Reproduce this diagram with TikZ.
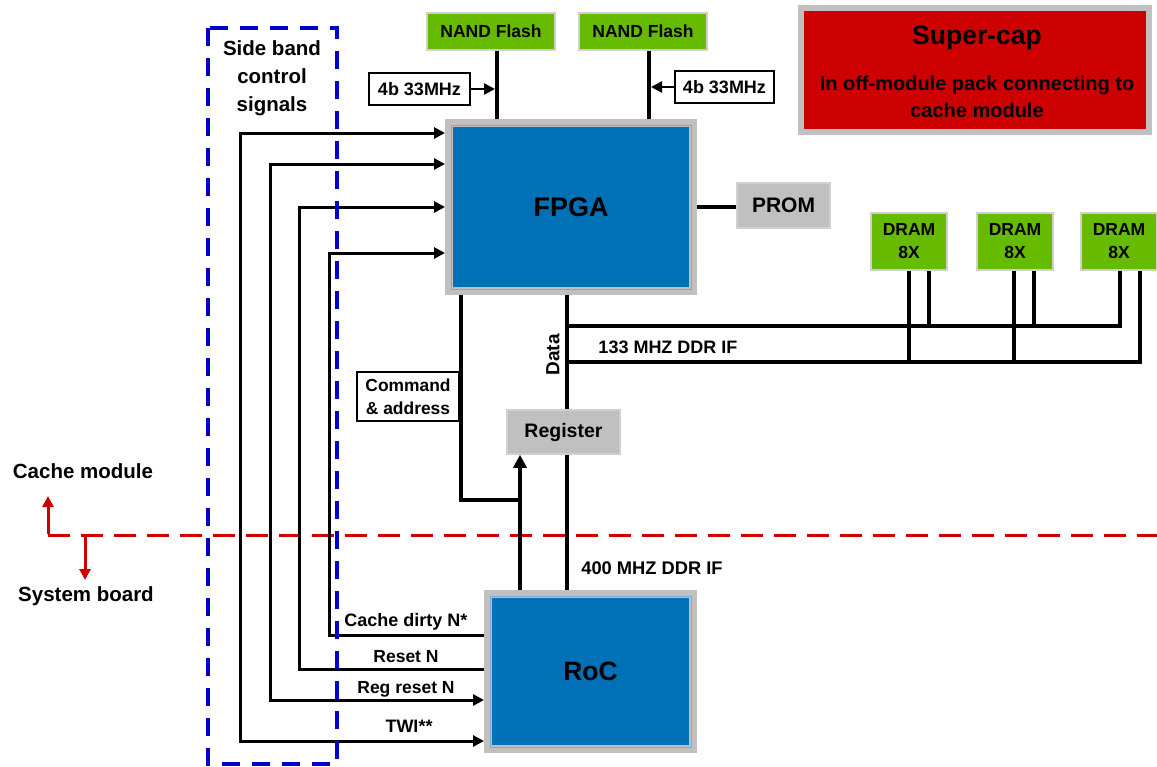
\documentclass[tikz,border=0pt]{standalone}
\usepackage{fontspec}
\setmainfont{Liberation Sans}
\usetikzlibrary{arrows.meta}
\definecolor{hpgreen}{RGB}{102,187,0}
\definecolor{hpgray}{RGB}{192,192,192}
\definecolor{edgegray}{RGB}{208,208,208}
\definecolor{hpblue}{RGB}{0,113,183}
\definecolor{thinblue}{RGB}{125,170,205}
\definecolor{hpred}{RGB}{204,0,0}
\definecolor{sbblue}{RGB}{0,0,204}
\newcommand\fz[2]{\fontsize{#1pt}{#2pt}\selectfont}
\begin{document}
\begin{tikzpicture}[x=1pt,y=-1pt,
  every node/.style={inner sep=0pt},
  chip/.style={fill=hpblue, draw=hpgray, line width=8pt},
  greenbox/.style={fill=hpgreen, draw=edgegray, line width=2pt, align=center},
  graybox/.style={fill=hpgray, draw=edgegray, line width=1.5pt},
  whitebox/.style={fill=white, draw=black, line width=2pt, align=center},
  lbl/.style={align=center},
  bus/.style={line width=3.2pt},
  thickbus/.style={line width=4.5pt},
  sig/.style={line width=3pt},
  tri/.tip={Triangle[length=11pt,width=11pt]},
  bigtri/.tip={Triangle[length=13pt,width=13pt]},
  redtri/.tip={Triangle[length=11pt,width=11pt]}
]
\useasboundingbox (0,0) rectangle (1157,766);

% ---- red partition line ----
\draw[hpred, line width=3pt, dash pattern=on 22pt off 11pt] (48,535) -- (1157,535);
\coordinate (redA) at (48,535);
\coordinate (redB) at (85,535);
\node[font=\bfseries\fz{20.5}{24}] (cm) at (83,471) {Cache module};
\node[font=\bfseries\fz{20.5}{24}] (sb) at (86,596) {System board};
\draw[hpred, line width=3pt, -redtri] ([yshift=1.5pt]redA) -- (48,496);
\draw[hpred, line width=3pt, -redtri] ([yshift=-1.5pt]redB) -- (85,580);

% ---- nodes ----
\node[greenbox, minimum width=128pt, minimum height=37pt, font=\bfseries\fz{17.5}{20}] (nand1) at (491,31.5) {NAND Flash};
\node[greenbox, minimum width=128pt, minimum height=37pt, font=\bfseries\fz{17.5}{20}] (nand2) at (643,31.5) {NAND Flash};
\node[whitebox, minimum width=101pt, minimum height=32pt, font=\bfseries\fz{18}{20}] (lbl1) at (419.5,89) {4b 33MHz};
\node[whitebox, minimum width=99pt, minimum height=32pt, font=\bfseries\fz{18}{20}] (lbl2) at (724.5,87) {4b 33MHz};

\node[chip, minimum width=244pt, minimum height=168pt, font=\bfseries\fz{27}{30}] (fpga) at (571,207) {FPGA};
\draw[thinblue, line width=1pt] ([shift={(6,6)}]fpga.north west) rectangle ([shift={(-6,-6)}]fpga.south east);

\node[chip, minimum width=205pt, minimum height=155pt, font=\bfseries\fz{26.5}{30}] (roc) at (590.5,671.5) {RoC};
\draw[thinblue, line width=1pt] ([shift={(6,6)}]roc.north west) rectangle ([shift={(-6,-6)}]roc.south east);

\node[graybox, minimum width=93pt, minimum height=45pt, font=\bfseries\fz{21}{24}] (prom) at (783.5,205.5) {PROM};
\node[graybox, minimum width=113pt, minimum height=44pt, font=\bfseries\fz{19.5}{22}] (reg) at (563.5,432) {Register};

\node[greenbox, minimum width=76pt, minimum height=57pt, font=\bfseries\fz{17.5}{23}] (dram1) at (909,241.5) {DRAM\\8X};
\node[greenbox, minimum width=76pt, minimum height=57pt, font=\bfseries\fz{17.5}{23}] (dram2) at (1015,241.5) {DRAM\\8X};
\node[greenbox, minimum width=76pt, minimum height=57pt, font=\bfseries\fz{17.5}{23}] (dram3) at (1119,241.5) {DRAM\\8X};

\node[whitebox, line width=1.5pt, minimum width=102pt, minimum height=49pt, font=\bfseries\fz{17.4}{23}] (cmd) at (408,396.5) {Command\\\& address};

\node[fill=hpred, draw=hpgray, line width=6pt, minimum width=348pt, minimum height=124pt] (cap) at (975,70) {};
\node[font=\bfseries\fz{26.5}{30}] (captitle) at (977,38) {Super-cap};
\node[lbl, font=\bfseries\fz{20}{27}] (captext) at (977,96.5) {In off-module pack connecting to\\cache module};

% ---- NAND connections ----
\draw[thickbus] ([xshift=6pt]nand1.south) -- ([xshift=6pt]nand1.south |- fpga.north);
\draw[thickbus] ([xshift=6pt]nand2.south) -- ([xshift=6pt]nand2.south |- fpga.north);
\draw[line width=2.4pt, -tri] (lbl1.east) -- (lbl1.east -| 495,0);
\draw[line width=2.4pt, -tri] (lbl2.west) -- (lbl2.west -| 651,0);

% ---- PROM ----
\draw[thickbus] (fpga.east) -- (fpga.east -| prom.west);

% ---- data path ----
\draw[thickbus] (fpga.south -| 567,0) -- (reg.north -| 567,0);
\draw[thickbus] (reg.south -| 567,0) -- (roc.north -| 567,0);
\node[rotate=90, font=\bfseries\fz{19}{22}] (datalbl) at (553,355) {Data};
\node[font=\bfseries\fz{18}{22}] (ddr133) at (668,347) {133 MHZ DDR IF};
\node[font=\bfseries\fz{18.3}{22}] (ddr400) at (652,568) {400 MHZ DDR IF};

% ---- command & address ----
\draw[thickbus, line join=miter] (fpga.south -| 461,0) |- (520,500);
\draw[thickbus, -bigtri] (roc.north -| 520,0) -- (reg.south -| 520,0);

% ---- DRAM buses ----
\coordinate (busU) at (567,326);
\coordinate (busL) at (567,362);
\draw[bus] (busU) -| ([xshift=1pt]dram3.south);
\draw[bus] (busL) -| ([xshift=21pt]dram3.south);
\draw[bus] (dram1.south) -- (dram1.south |- busL);
\draw[bus] ([xshift=20pt]dram1.south) -- ([xshift=20pt]dram1.south |- busU);
\draw[bus] ([xshift=-1pt]dram2.south) -- ([xshift=-1pt]dram2.south |- busL);
\draw[bus] ([xshift=19pt]dram2.south) -- ([xshift=19pt]dram2.south |- busU);

% ---- side band signals ----
\draw[sig, tri-tri] (fpga.west |- 0,133) -| (240,741) -- (roc.west |- 0,741);
\draw[sig, tri-tri] (fpga.west |- 0,164) -| (270,700) -- (roc.west |- 0,700);
\draw[sig, tri-] (fpga.west |- 0,207) -| (299,669) -- (roc.west |- 0,669);
\draw[sig, tri-] (fpga.west |- 0,253) -| (329,635) -- (roc.west |- 0,635);
\node[font=\bfseries\fz{18}{22}] (l1) at (406,622) {Cache dirty N*};
\node[font=\bfseries\fz{17.5}{22}] (l2) at (406,657) {Reset N};
\node[font=\bfseries\fz{17.5}{22}] (l3) at (406,689) {Reg reset N};
\node[font=\bfseries\fz{18}{22}] (l4) at (409,726) {TWI**};

% ---- side band box ----
\draw[sbblue, line width=4pt, dash pattern=on 18pt off 12pt] (208,28) rectangle (337,764);
\node[lbl, font=\bfseries\fz{20.5}{28}] (sbtext) at (272,78) {Side band\\control\\signals};
\end{tikzpicture}
\end{document}
